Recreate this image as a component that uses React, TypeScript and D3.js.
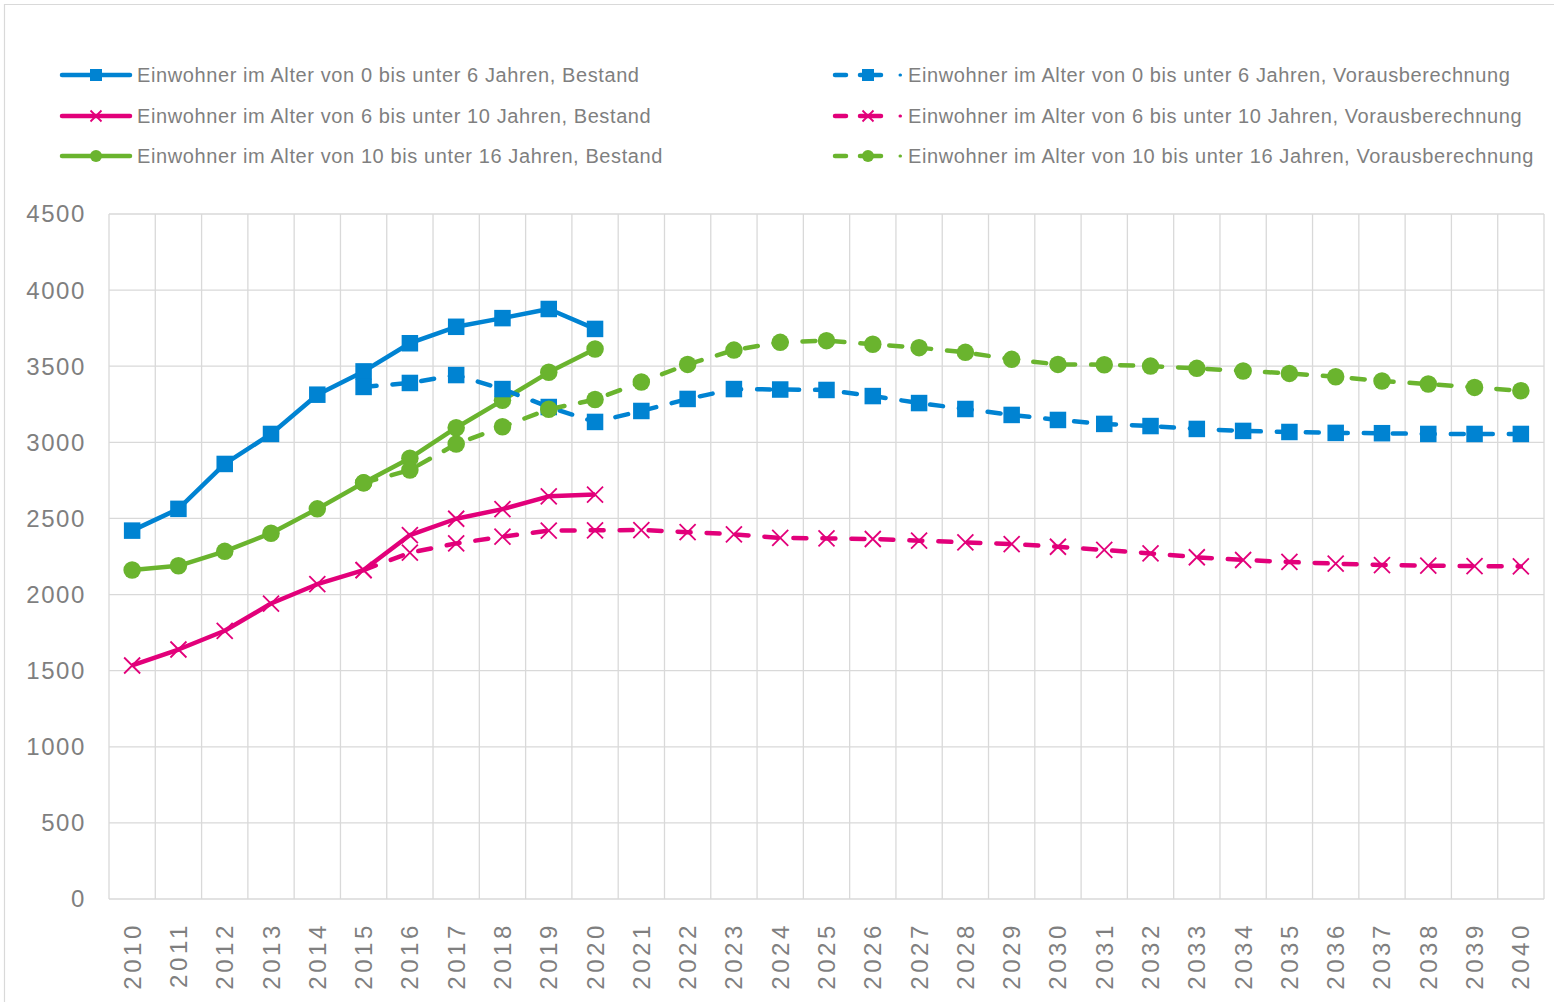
import React, { useEffect, useRef } from 'react';
import * as d3 from 'd3';

const years = d3.range(2010, 2041).map(String);

// Bestand 2010-2020
const u6Bestand = [2420, 2563, 2858, 3055, 3313, 3466, 3651, 3759, 3816, 3876, 3745];
const u10Bestand = [1534, 1639, 1762, 1941, 2068, 2161, 2391, 2498, 2561, 2645, 2657];
const u16Bestand = [2161, 2189, 2284, 2403, 2563, 2734, 2896, 3096, 3276, 3460, 3613];

// Vorausberechnung 2015-2040
const u6Prog = [3364, 3390, 3442, 3350, 3232, 3134, 3206, 3285, 3350, 3347, 3344, 3304, 3258, 3219, 3180, 3147, 3121, 3107, 3088, 3075, 3068, 3062, 3060, 3055, 3055, 3055];
const u10Prog = [2161, 2275, 2336, 2380, 2420, 2422, 2424, 2410, 2396, 2372, 2369, 2365, 2354, 2343, 2332, 2314, 2293, 2270, 2245, 2227, 2214, 2203, 2194, 2190, 2187, 2185];
const u16Prog = [2734, 2818, 2989, 3102, 3217, 3281, 3396, 3512, 3606, 3657, 3668, 3644, 3622, 3591, 3545, 3512, 3510, 3501, 3486, 3469, 3453, 3431, 3403, 3383, 3361, 3339];

const yTicks = [0, 500, 1000, 1500, 2000, 2500, 3000, 3500, 4000, 4500];

const BLUE = '#0083d2';
const MAGENTA = '#e2007a';
const GREEN = '#6ab42e';
const GRID = '#d9d9d9';
const TEXT = '#7f7f7f';
const FONT = '"Liberation Sans", Arial, sans-serif';

const series = [
    { name: 'Einwohner im Alter von 0 bis unter 6 Jahren, Bestand', values: u6Bestand, start: 0, color: BLUE, marker: 'square', dashed: false },
    { name: 'Einwohner im Alter von 6 bis unter 10 Jahren, Bestand', values: u10Bestand, start: 0, color: MAGENTA, marker: 'x', dashed: false },
    { name: 'Einwohner im Alter von 10 bis unter 16 Jahren, Bestand', values: u16Bestand, start: 0, color: GREEN, marker: 'circle', dashed: false },
    { name: 'Einwohner im Alter von 0 bis unter 6 Jahren, Vorausberechnung', values: u6Prog, start: 5, color: BLUE, marker: 'square', dashed: true },
    { name: 'Einwohner im Alter von 6 bis unter 10 Jahren, Vorausberechnung', values: u10Prog, start: 5, color: MAGENTA, marker: 'x', dashed: true },
    { name: 'Einwohner im Alter von 10 bis unter 16 Jahren, Vorausberechnung', values: u16Prog, start: 5, color: GREEN, marker: 'circle', dashed: true },
];

const drawMarker = (g, type, x, y, color, s) => {
    if (type === 'square') {
        g.append('rect').attr('x', x - s / 2).attr('y', y - s / 2).attr('width', s).attr('height', s).attr('fill', color);
    } else if (type === 'circle') {
        g.append('circle').attr('cx', x).attr('cy', y).attr('r', s / 2).attr('fill', color);
    } else {
        const h = s / 2;
        g.append('path')
            .attr('d', `M${x - h},${y - h}L${x + h},${y + h}M${x - h},${y + h}L${x + h},${y - h}`)
            .attr('stroke', color).attr('stroke-width', 1.8).attr('fill', 'none');
    }
};

const App = () => {
    const ref = useRef(null);

    useEffect(() => {
        const root = d3.select(ref.current);
        root.selectAll('*').remove();
        const svg = root.append('svg')
            .attr('width', 1554).attr('height', 1002)
            .style('position', 'absolute').style('left', 0).style('top', 0)
            .style('font-family', FONT);

        svg.append('rect').attr('width', 1554).attr('height', 1002).attr('fill', '#fff');
        svg.append('path').attr('d', 'M4.5,1002V4.5H1554').attr('stroke', GRID).attr('stroke-width', 1.2).attr('fill', 'none');

        const x = d3.scaleBand().domain(years).range([109, 1544]).padding(0);
        const y = d3.scaleLinear().domain([0, 4500]).range([899, 214]);
        const cx = (i) => x(years[i]) + x.bandwidth() / 2;

        // grid
        const grid = svg.append('g').attr('stroke', GRID).attr('stroke-width', 1.3);
        yTicks.forEach((t) => {
            grid.append('line').attr('x1', 109).attr('x2', 1544).attr('y1', y(t)).attr('y2', y(t));
        });
        years.forEach((yr) => {
            grid.append('line').attr('x1', x(yr)).attr('x2', x(yr)).attr('y1', 214).attr('y2', 899);
        });
        grid.append('line').attr('x1', 1544).attr('x2', 1544).attr('y1', 214).attr('y2', 899);

        // y labels
        yTicks.forEach((t) => {
            svg.append('text').attr('x', 86).attr('y', y(t)).attr('dy', '0.35em')
                .attr('text-anchor', 'end').attr('font-size', 24).attr('letter-spacing', '1.6px')
                .attr('fill', TEXT).text(t);
        });

        // x labels
        years.forEach((yr, i) => {
            svg.append('text')
                .attr('transform', `translate(${cx(i) + 8.5},922) rotate(-90)`)
                .attr('text-anchor', 'end').attr('font-size', 24).attr('letter-spacing', '3.6px')
                .attr('fill', TEXT).text(yr);
        });

        // lines
        const plot = svg.append('g');
        series.forEach((s) => {
            const pts = s.values.map((v, k) => [cx(s.start + k), y(v)]);
            plot.append('path')
                .attr('d', d3.line()(pts))
                .attr('fill', 'none').attr('stroke', s.color).attr('stroke-width', 4.5)
                .attr('stroke-linejoin', 'round')
                .attr('stroke-linecap', s.dashed ? 'round' : 'butt')
                .attr('stroke-dasharray', s.dashed ? '13 16' : null);
            pts.forEach(([px, py]) => {
                drawMarker(plot, s.marker, px, py, s.color, s.marker === 'x' ? 16 : s.marker === 'circle' ? 17.5 : 16.5);
            });
        });

        // legend
        const rowsY = [75, 116, 156];
        const leg = svg.append('g');
        series.forEach((s, i) => {
            const row = i % 3;
            const ly = rowsY[row];
            if (!s.dashed) {
                leg.append('line').attr('x1', 62).attr('x2', 130).attr('y1', ly).attr('y2', ly)
                    .attr('stroke', s.color).attr('stroke-width', 4.5).attr('stroke-linecap', 'round');
                drawMarker(leg, s.marker, 96, ly, s.color, s.marker === 'x' ? 11 : 12);
                leg.append('text').attr('x', 137).attr('y', ly).attr('dy', '0.35em')
                    .attr('font-size', 20).attr('letter-spacing', '0.6px').attr('fill', TEXT).text(s.name);
            } else {
                const sample = leg.append('g').attr('stroke', s.color).attr('stroke-width', 4.5).attr('stroke-linecap', 'round');
                sample.append('line').attr('x1', 835).attr('x2', 846).attr('y1', ly).attr('y2', ly);
                sample.append('line').attr('x1', 860).attr('x2', 881).attr('y1', ly).attr('y2', ly);
                sample.append('line').attr('x1', 900).attr('x2', 900.5).attr('y1', ly).attr('y2', ly).attr('stroke-width', 3);
                drawMarker(leg, s.marker, 868, ly, s.color, s.marker === 'x' ? 11 : 12);
                leg.append('text').attr('x', 908).attr('y', ly).attr('dy', '0.35em')
                    .attr('font-size', 20).attr('letter-spacing', '0.6px').attr('fill', TEXT).text(s.name);
            }
        });
    }, []);

    return <div ref={ref}></div>;
};

export default App;
